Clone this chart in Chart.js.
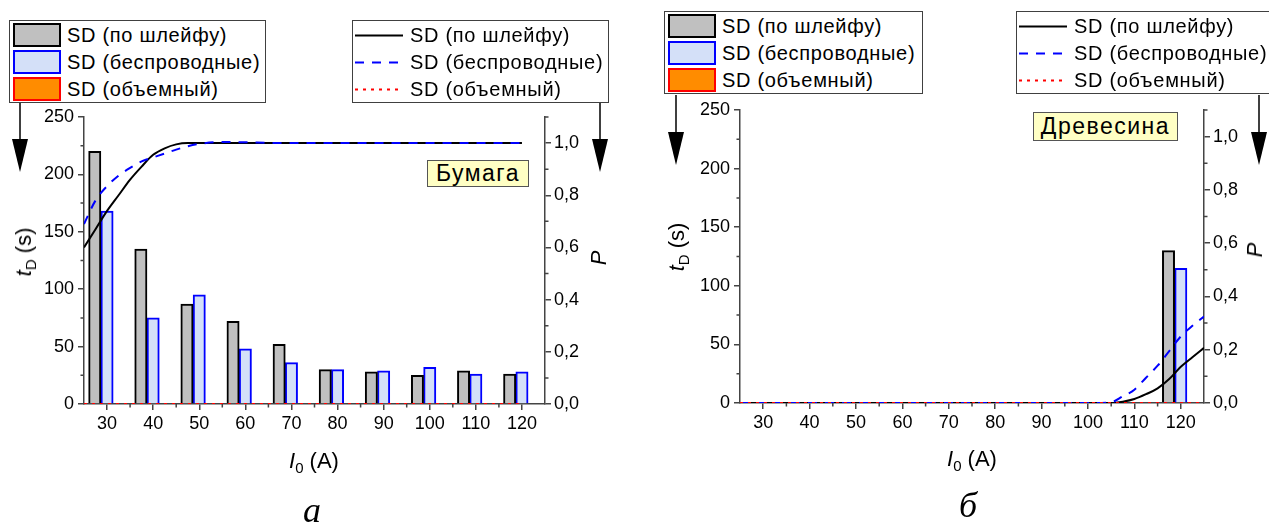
<!DOCTYPE html>
<html>
<head>
<meta charset="utf-8">
<script src="https://cdn.jsdelivr.net/npm/chart.js@4.4.0/dist/chart.umd.min.js"></script>
<style>
  body { margin: 0; width: 1269px; height: 529px; overflow: hidden; background: #fff;
         position: relative; font-family: "Liberation Sans", Arial, sans-serif; color: #000; }
  canvas { position: absolute; top: 0; }
  .legend { position: absolute; border: 1.5px solid #404040; background: #fff; box-sizing: border-box; }
  .legend .item { position: absolute; left: 0; height: 27px; font-size: 20px; letter-spacing: 0.7px; white-space: nowrap; }
  .legend .swatch { position: absolute; left: 3px; top: 1px; width: 48px; height: 24px; box-sizing: border-box; border: 2px solid; }
  .legend svg { position: absolute; left: 1px; top: 0; }
  .legend .txt { position: absolute; left: 57px; top: 2px; }
  .tag { position: absolute; background: #ffffc4; border: 1.5px solid #555; box-sizing: border-box;
         font-size: 23px; letter-spacing: 1.5px; text-align: center; }
  .atitle { position: absolute; font-size: 22px; white-space: nowrap; transform: translate(-50%, -50%); }
  .atitle sub { font-size: 15px; vertical-align: -5px; }
  .rot { transform: translate(-50%, -50%) rotate(-90deg); }
  .caption { position: absolute; font-family: "Liberation Serif", "Times New Roman", serif; font-style: italic;
             font-size: 36px; transform: translate(-50%, -50%); }
</style>
</head>
<body>
<canvas id="paper" width="634" height="529" style="left:0"></canvas>
<canvas id="wood" width="635" height="529" style="left:634px"></canvas>

<div class="atitle rot" style="left:25px;top:252px"><i>t</i><sub>D</sub> (s)</div>
<div class="atitle rot" style="left:599px;top:258px"><i>P</i></div>
<div class="atitle" style="left:314px;top:462px"><i>I</i><sub>0</sub> (A)</div>
<div class="atitle rot" style="left:678px;top:247px"><i>t</i><sub>D</sub> (s)</div>
<div class="atitle rot" style="left:1255px;top:250px"><i>P</i></div>
<div class="atitle" style="left:972px;top:460px"><i>I</i><sub>0</sub> (A)</div>

<div class="tag" style="left:427px;top:160px;width:102px;height:27px;line-height:25px">Бумага</div>
<div class="tag" style="left:1033px;top:112px;width:145px;height:29px;line-height:27px">Древесина</div>

<div class="caption" style="left:312px;top:510px">а</div>
<div class="caption" style="left:968px;top:505px">б</div>

<script>
// токи срабатывания, А
const currents = [30, 40, 50, 60, 70, 80, 90, 100, 110, 120];
const seriesNames = ['SD (по шлейфу)', 'SD (беспроводные)', 'SD (объемный)'];

// Бумага: время срабатывания, с
const paperTimeLoop = [220, 135, 87, 72, 52, 30, 28, 25, 29, 26];
const paperTimeWireless = [168, 75, 95, 48, 36, 30, 29, 32, 26, 28];
const paperTimeVolume = [0, 0, 0, 0, 0, 0, 0, 0, 0, 0];

// Бумага: вероятность срабатывания
const paperProbCurrent = [25, 27.5, 30, 32.5, 35, 37.5, 40, 42.5, 45, 47.5, 50, 55, 60, 65, 70, 75, 80, 85, 90, 95, 100, 105, 110, 115, 120];
const paperProbLoop = [0.60, 0.67, 0.74, 0.80, 0.86, 0.91, 0.955, 0.98, 0.995, 1.0, 1.0, 1.0, 1.0, 1.0, 1.0, 1.0, 1.0, 1.0, 1.0, 1.0, 1.0, 1.0, 1.0, 1.0, 1.0];
const paperProbWireless = [0.69, 0.78, 0.835, 0.875, 0.905, 0.93, 0.945, 0.96, 0.975, 0.988, 0.997, 1.004, 1.003, 1.001, 1.0, 1.0, 1.0, 1.0, 1.0, 1.0, 1.0, 1.0, 1.0, 1.0, 1.0];
const paperProbVolume = [0, 0, 0, 0, 0, 0, 0, 0, 0, 0, 0, 0, 0, 0, 0, 0, 0, 0, 0, 0, 0, 0, 0, 0, 0];

// Древесина: время срабатывания, с
const woodTimeLoop = [0, 0, 0, 0, 0, 0, 0, 0, 0, 130];
const woodTimeWireless = [0, 0, 0, 0, 0, 0, 0, 0, 0, 115];
const woodTimeVolume = [0, 0, 0, 0, 0, 0, 0, 0, 0, 0];

// Древесина: вероятность срабатывания
const woodProbCurrent = [25, 30, 35, 40, 45, 50, 55, 60, 65, 70, 75, 80, 85, 90, 95, 100, 105, 107.5, 110, 112.5, 115, 117.5, 120, 122.5, 125];
const woodProbLoop = [0, 0, 0, 0, 0, 0, 0, 0, 0, 0, 0, 0, 0, 0, 0, 0, 0, 0.005, 0.015, 0.033, 0.055, 0.09, 0.136, 0.172, 0.207];
const woodProbWireless = [0, 0, 0, 0, 0, 0, 0, 0, 0, 0, 0, 0, 0, 0, 0, 0, 0.003, 0.025, 0.05, 0.095, 0.14, 0.195, 0.25, 0.29, 0.325];
const woodProbVolume = [0, 0, 0, 0, 0, 0, 0, 0, 0, 0, 0, 0, 0, 0, 0, 0, 0, 0, 0, 0, 0, 0, 0, 0, 0];

// деления осей
const timeTicks = [0, 50, 100, 150, 200, 250];
const probTicks = [0, 0.2, 0.4, 0.6, 0.8, 1.0];
const currentTicks = [30, 40, 50, 60, 70, 80, 90, 100, 110, 120];
const timeMinor = [25, 75, 125, 175, 225];
const probMinor = [0.1, 0.3, 0.5, 0.7, 0.9, 1.1];
const currentMinor = [35, 45, 55, 65, 75, 85, 95, 105, 115];

const barFill = ['#c0c0c0', '#d4e0f8', '#ff8c00'];
const barBorder = ['#000000', '#0000ff', '#ff0000'];
const lineColor = ['#000000', '#0000ff', '#ff0000'];
const lineDash = [[], [9, 8], [3, 5]];
// порядок отрисовки: красная поверх синей, синяя поверх черной, столбцы снизу
const lineOrder = [2, 1, 0];
const axisColor = '#444';
const font = { family: '"Liberation Sans", Arial, sans-serif', size: 18 };

function makeDatasets(times, probX, probs) {
  const sets = [];
  probs.forEach((p, i) => {
    sets.push({
      type: 'line', label: seriesNames[i], yAxisID: 'y1', order: lineOrder[i],
      data: probX.map((x, k) => ({ x: x, y: p[k] })),
      borderColor: lineColor[i], borderWidth: 2, borderDash: lineDash[i],
      pointRadius: 0, cubicInterpolationMode: 'monotone', fill: false
    });
  });
  times.forEach((t, i) => {
    sets.push({
      type: 'bar', label: seriesNames[i], yAxisID: 'y', order: 5,
      data: currents.map((c, k) => ({ x: c, y: t[k] })),
      backgroundColor: barFill[i], borderColor: barBorder[i], borderWidth: 2,
      barThickness: 12.3, grouped: true
    });
  });
  return sets;
}

// короткие промежуточные деления и стрелки
const extras = {
  id: 'extras',
  afterDraw(chart, args, opts) {
    const ctx = chart.ctx;
    const { x, y, y1 } = chart.scales;
    ctx.save();
    ctx.strokeStyle = axisColor;
    ctx.lineWidth = 1.5;
    ctx.beginPath();
    currentMinor.forEach(v => { const p = x.getPixelForValue(v); ctx.moveTo(p, x.top); ctx.lineTo(p, x.top + 3.5); });
    timeMinor.forEach(v => { const p = y.getPixelForValue(v); ctx.moveTo(y.right, p); ctx.lineTo(y.right - 3.5, p); });
    probMinor.forEach(v => { const p = y1.getPixelForValue(v); ctx.moveTo(y1.left, p); ctx.lineTo(y1.left + 3.5, p); });
    ctx.stroke();
    ctx.strokeStyle = '#000';
    ctx.fillStyle = '#000';
    opts.arrows.forEach(a => {
      ctx.beginPath();
      ctx.moveTo(a.x, a.from);
      ctx.lineTo(a.x, a.to - 30);
      ctx.stroke();
      ctx.beginPath();
      ctx.moveTo(a.x - 8, a.to - 33);
      ctx.lineTo(a.x + 8, a.to - 33);
      ctx.lineTo(a.x, a.to);
      ctx.closePath();
      ctx.fill();
    });
    ctx.restore();
  }
};

function setTicks(list) {
  return scale => { scale.ticks = list.map(v => ({ value: v })); };
}

function makeChart(id, times, probX, probs, box, arrows) {
  const ctx = document.getElementById(id).getContext('2d');
  return new Chart(ctx, {
    type: 'bar',
    data: { datasets: makeDatasets(times, probX, probs) },
    options: {
      responsive: false,
      animation: false,
      layout: { padding: { top: box.top, left: 0, right: 0, bottom: 0 } },
      plugins: {
        legend: { display: false },
        tooltip: { enabled: false },
        extras: { arrows: arrows }
      },
      scales: {
        x: {
          type: 'linear', min: 25, max: 125, offset: false,
          afterBuildTicks: setTicks(currentTicks),
          afterFit: s => { s.height = box.xh; },
          ticks: { font: font, color: '#000', padding: 3, maxRotation: 0, autoSkip: false },
          grid: { drawOnChartArea: false, offset: false, tickLength: 6, color: axisColor, lineWidth: 1.5 },
          border: { color: axisColor, width: 1.5 }
        },
        y: {
          position: 'left', min: 0, max: 250,
          afterBuildTicks: setTicks(timeTicks),
          afterFit: s => { s.width = box.yw; },
          ticks: { font: font, color: '#000', padding: 4, autoSkip: false },
          grid: { drawOnChartArea: false, tickLength: 6, color: axisColor, lineWidth: 1.5 },
          border: { color: axisColor, width: 1.5 }
        },
        y1: {
          position: 'right', min: 0, max: 1.1,
          afterBuildTicks: setTicks(probTicks),
          afterFit: s => { s.width = box.y1w; },
          ticks: { font: font, color: '#000', padding: 3, autoSkip: false,
                   callback: v => v.toFixed(1).replace('.', ',') },
          grid: { drawOnChartArea: false, tickLength: 6, color: axisColor, lineWidth: 1.5 },
          border: { color: axisColor, width: 1.5 }
        }
      }
    },
    plugins: [extras]
  });
}

makeChart('paper',
  [paperTimeLoop, paperTimeWireless, paperTimeVolume],
  paperProbCurrent,
  [paperProbLoop, paperProbWireless, paperProbVolume],
  { top: 117, xh: 125, yw: 84, y1w: 89 },
  [{ x: 20, from: 103, to: 172 }, { x: 600, from: 103, to: 172 }]);

makeChart('wood',
  [woodTimeLoop, woodTimeWireless, woodTimeVolume],
  woodProbCurrent,
  [woodProbLoop, woodProbWireless, woodProbVolume],
  { top: 110, xh: 126, yw: 106, y1w: 65 },
  [{ x: 42, from: 95, to: 165 }, { x: 625, from: 95, to: 165 }]);

// легенды: столбцы (время) и линии (вероятность)
function makeLegend(left, top, width, kind) {
  const box = document.createElement('div');
  box.className = 'legend';
  box.style.left = left + 'px';
  box.style.top = top + 'px';
  box.style.width = width + 'px';
  box.style.height = '83px';
  seriesNames.forEach((name, i) => {
    const item = document.createElement('div');
    item.className = 'item';
    item.style.top = (1 + 27 * i) + 'px';
    if (kind === 'bar') {
      const sw = document.createElement('div');
      sw.className = 'swatch';
      sw.style.background = barFill[i];
      sw.style.borderColor = barBorder[i];
      item.appendChild(sw);
    } else {
      item.insertAdjacentHTML('beforeend',
        '<svg width="50" height="27"><line x1="1" y1="13.5" x2="49" y2="13.5" stroke="' + lineColor[i] +
        '" stroke-width="2" stroke-dasharray="' + (lineDash[i].join(' ') || 'none') + '"/></svg>');
    }
    const t = document.createElement('span');
    t.className = 'txt';
    t.textContent = name;
    item.appendChild(t);
    box.appendChild(item);
  });
  document.body.appendChild(box);
}

makeLegend(9, 20, 257, 'bar');
makeLegend(352, 20, 257, 'line');
makeLegend(664, 11, 259, 'bar');
makeLegend(1016, 11, 262, 'line');
</script>
</body>
</html>
